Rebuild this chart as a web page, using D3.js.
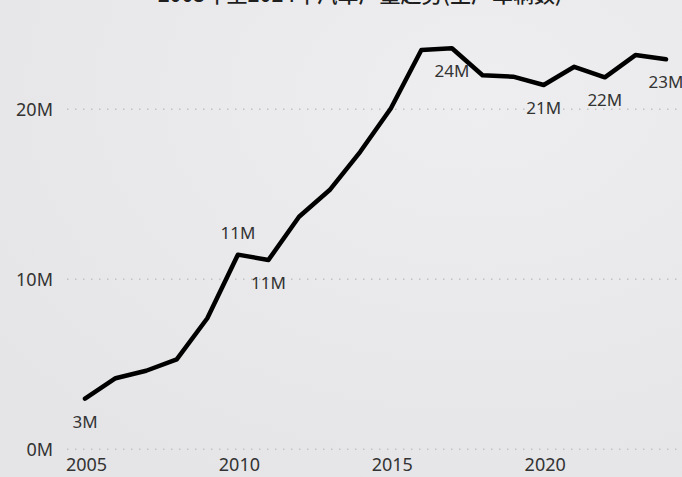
<!DOCTYPE html>
<html>
<head>
<meta charset="utf-8">
<script src="https://cdn.jsdelivr.net/npm/d3@7"></script>
<style>
  html, body { margin: 0; padding: 0; background: #e9e9eb; }
  svg { display: block; }
</style>
</head>
<body>
<svg id="chart" width="682" height="477"></svg>
<script>
// ---- data ----
const title = "2005年至2024年汽车产量趋势(生产车辆数)";
const years = [2005, 2006, 2007, 2008, 2009, 2010, 2011, 2012, 2013, 2014,
               2015, 2016, 2017, 2018, 2019, 2020, 2021, 2022, 2023, 2024];
const valuesM = [2.98, 4.18, 4.62, 5.29, 7.71, 11.45, 11.14, 13.68, 15.25, 17.5,
                 20.05, 23.49, 23.59, 22.0, 21.92, 21.43, 22.5, 21.88, 23.19, 22.94];
const yTicks = [0, 10, 20];
const xTicks = [2005, 2010, 2015, 2020];
const labelYears = [2005, 2010, 2011, 2017, 2020, 2022, 2024];
const labelAbove = [2010];

// ---- chart ----
const svg = d3.select("#chart");
const W = 682, H = 477;

const defs = svg.append("defs");
const grad = defs.append("radialGradient").attr("id", "bg")
  .attr("cx", "70%").attr("cy", "20%").attr("r", "90%");
grad.append("stop").attr("offset", "0%").attr("stop-color", "#eeeef0");
grad.append("stop").attr("offset", "100%").attr("stop-color", "#e5e5e7");
svg.append("rect").attr("width", W).attr("height", H).attr("fill", "url(#bg)");

const x = d3.scaleLinear().domain([2005, 2024]).range([85, 666]);
const y = d3.scaleLinear().domain([0, 25]).range([449.3, 24.3]);

const fontFam = "'Noto Sans', 'Open Sans', sans-serif";
const textCol = "#333333";

// title (cut off at top in reference)
svg.append("text")
  .attr("x", 360).attr("y", 2)
  .attr("text-anchor", "middle")
  .attr("font-family", "'Noto Sans CJK SC', 'Noto Sans', sans-serif")
  .attr("font-size", 21)
  .attr("font-weight", 500)
  .attr("fill", "#1f1f1f")
  .text(title);

// gridlines
svg.append("g").selectAll("line").data(yTicks).join("line")
  .attr("x1", 67).attr("x2", W)
  .attr("y1", d => y(d)).attr("y2", d => y(d))
  .attr("stroke", "#c2c2c4")
  .attr("stroke-width", 1.5)
  .attr("stroke-dasharray", "1.5,6.5");

// y axis
const yAxis = d3.axisLeft(y).tickValues(yTicks).tickSize(0).tickPadding(0)
  .tickFormat(d => d + "M");
const gy = svg.append("g").attr("transform", "translate(53,0)").call(yAxis);
gy.select(".domain").remove();
gy.selectAll("text")
  .attr("font-family", fontFam).attr("font-size", 18).attr("fill", textCol);

// x axis
const xAxis = d3.axisBottom(x).tickValues(xTicks).tickSize(0).tickPadding(0)
  .tickFormat(d3.format("d"));
const gx = svg.append("g").attr("transform", "translate(1,458)").call(xAxis);
gx.select(".domain").remove();
gx.selectAll("text")
  .attr("font-family", fontFam).attr("font-size", 18).attr("fill", textCol)
  .attr("dy", "0.72em");

// line
const data = years.map((yr, i) => ({ year: yr, v: valuesM[i] }));
const line = d3.line().x(d => x(d.year)).y(d => y(d.v));
svg.append("path").datum(data)
  .attr("d", line)
  .attr("fill", "none")
  .attr("stroke", "#000")
  .attr("stroke-width", 4.5)
  .attr("stroke-linejoin", "round")
  .attr("stroke-linecap", "round");

// data labels
const labData = data.filter(d => labelYears.includes(d.year));
svg.append("g").selectAll("text").data(labData).join("text")
  .attr("x", d => x(d.year))
  .attr("y", d => y(d.v) + (labelAbove.includes(d.year) ? -22 : 23))
  .attr("dy", "0.35em")
  .attr("text-anchor", "middle")
  .attr("font-family", fontFam).attr("font-size", 17).attr("fill", textCol)
  .text(d => d3.format(".0f")(d.v) + "M");
</script>
</body>
</html>
